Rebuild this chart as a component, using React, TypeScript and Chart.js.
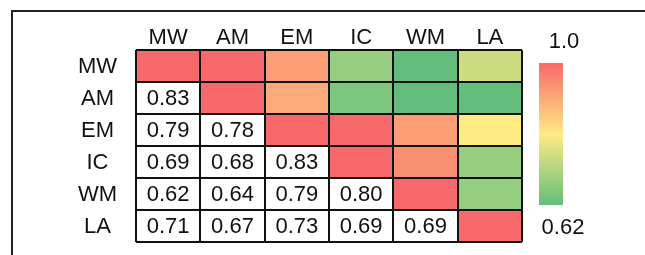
import React, { useEffect, useRef } from 'react';
import { Chart, registerables } from 'chart.js';

Chart.register(...registerables);

// ---- data ----
const rowLabels = ['MW', 'AM', 'EM', 'IC', 'WM', 'LA'];
const colLabels = ['MW', 'AM', 'EM', 'IC', 'WM', 'LA'];

// lower triangle of the correlation matrix (row by row, including diagonal)
const lowerMW = [1.0];
const lowerAM = [0.83, 1.0];
const lowerEM = [0.79, 0.78, 1.0];
const lowerIC = [0.69, 0.68, 0.83, 1.0];
const lowerWM = [0.62, 0.64, 0.79, 0.8, 1.0];
const lowerLA = [0.71, 0.67, 0.73, 0.69, 0.69, 1.0];
const lowerTriangle = [lowerMW, lowerAM, lowerEM, lowerIC, lowerWM, lowerLA];

const scaleMaxLabel = '1.0';
const scaleMinLabel = '0.62';

// ---- style ----
const FONT = '"Liberation Sans", Arial, sans-serif';
const TEXT = '#111111';
const GREEN = [99, 190, 123];
const YELLOW = [255, 235, 132];
const RED = [248, 105, 107];
const colorStops = [
  { v: 0.67, c: GREEN },
  { v: 0.73, c: YELLOW },
  { v: 0.83, c: RED },
];

function corr(r: number, c: number): number {
  return c <= r ? lowerTriangle[r][c] : lowerTriangle[c][r];
}

function rgb(c: number[]) {
  return `rgb(${Math.round(c[0])},${Math.round(c[1])},${Math.round(c[2])})`;
}

function colorFor(v: number): string {
  if (v <= colorStops[0].v) return rgb(colorStops[0].c);
  for (let i = 1; i < colorStops.length; i++) {
    const a = colorStops[i - 1];
    const b = colorStops[i];
    if (v <= b.v) {
      const t = (v - a.v) / (b.v - a.v);
      return rgb(a.c.map((x, k) => x + (b.c[k] - x) * t));
    }
  }
  return rgb(colorStops[colorStops.length - 1].c);
}

const decorPlugin = {
  id: 'decor',
  afterDatasetsDraw(chart: any) {
    const ctx = chart.ctx;
    ctx.save();
    ctx.font = `22px ${FONT}`;
    ctx.fillStyle = TEXT;
    ctx.textAlign = 'center';
    ctx.textBaseline = 'middle';
    chart.data.datasets.forEach((ds: any, r: number) => {
      const meta = chart.getDatasetMeta(r);
      meta.data.forEach((el: any, c: number) => {
        if (c < r) {
          const cy = (el.y + el.base) / 2;
          ctx.fillText(corr(r, c).toFixed(2), el.x, cy + 1);
        }
      });
    });
    ctx.restore();
  },
  afterDraw(chart: any) {
    const ctx = chart.ctx;
    const area = chart.chartArea;
    ctx.save();
    // outer frame (top and left edges)
    ctx.strokeStyle = '#222222';
    ctx.lineWidth = 2;
    ctx.beginPath();
    ctx.moveTo(12, chart.height);
    ctx.lineTo(12, 11);
    ctx.lineTo(chart.width, 11);
    ctx.stroke();

    // color bar
    const bx = area.right + 17;
    const bw = 24;
    const bt = area.top + 13;
    const bb = area.bottom - 37;
    const g = ctx.createLinearGradient(0, bt, 0, bb);
    g.addColorStop(0, rgb(RED));
    g.addColorStop(0.5, rgb(YELLOW));
    g.addColorStop(1, rgb(GREEN));
    ctx.fillStyle = g;
    ctx.fillRect(bx, bt, bw, bb - bt);

    ctx.font = `22px ${FONT}`;
    ctx.fillStyle = TEXT;
    ctx.textAlign = 'center';
    ctx.textBaseline = 'middle';
    ctx.fillText(scaleMaxLabel, bx + bw / 2 + 13, bt - 21);
    ctx.fillText(scaleMinLabel, bx + bw / 2 + 12, bb + 23);
    ctx.restore();
  },
};

export default function App() {
  const ref = useRef<HTMLCanvasElement | null>(null);

  useEffect(() => {
    if (!ref.current) return;
    const datasets = rowLabels.map((rl, r) => ({
      label: rl,
      data: colLabels.map(() => [r, r + 1]),
      backgroundColor: colLabels.map((_, c) => (c < r ? '#ffffff' : colorFor(corr(r, c)))),
      borderWidth: 0,
      barPercentage: 1,
      categoryPercentage: 1,
      grouped: false,
    }));

    const chart = new Chart(ref.current, {
      type: 'bar',
      data: { labels: colLabels, datasets: datasets as any },
      options: {
        responsive: false,
        animation: false,
        devicePixelRatio: 1,
        layout: { padding: { left: 0, top: 0, right: 123, bottom: 13 } },
        plugins: { legend: { display: false }, tooltip: { enabled: false } },
        scales: {
          x: {
            type: 'category',
            position: 'top',
            offset: true,
            grid: { offset: true, color: '#111111', lineWidth: 2, drawTicks: false, z: 1 },
            border: { display: false },
            ticks: {
              padding: -1,
              maxRotation: 0,
              autoSkip: false,
              color: TEXT,
              font: { family: FONT, size: 22 },
            },
            afterFit: (s: any) => {
              s.height = 50;
              s.paddingLeft = 0;
              s.paddingRight = 0;
            },
          },
          y: {
            type: 'linear',
            min: 0,
            max: 6,
            reverse: true,
            grid: { color: '#111111', lineWidth: 2, drawTicks: false, z: 1 },
            border: { display: false },
            ticks: {
              stepSize: 1,
              padding: 19,
              crossAlign: 'center',
              labelOffset: 17,
              autoSkip: false,
              color: TEXT,
              font: { family: FONT, size: 22 },
              callback: (v: any) => rowLabels[v as number] ?? '',
            },
            afterFit: (s: any) => {
              s.width = 136;
              s.paddingTop = 0;
              s.paddingBottom = 0;
            },
          },
        },
      } as any,
      plugins: [decorPlugin],
    });
    return () => chart.destroy();
  }, []);

  return (
    <div style={{ position: 'fixed', left: 0, top: 0, width: 645, height: 255, background: '#ffffff' }}>
      <canvas ref={ref} width={645} height={255} style={{ width: 645, height: 255, display: 'block' }} />
    </div>
  );
}
